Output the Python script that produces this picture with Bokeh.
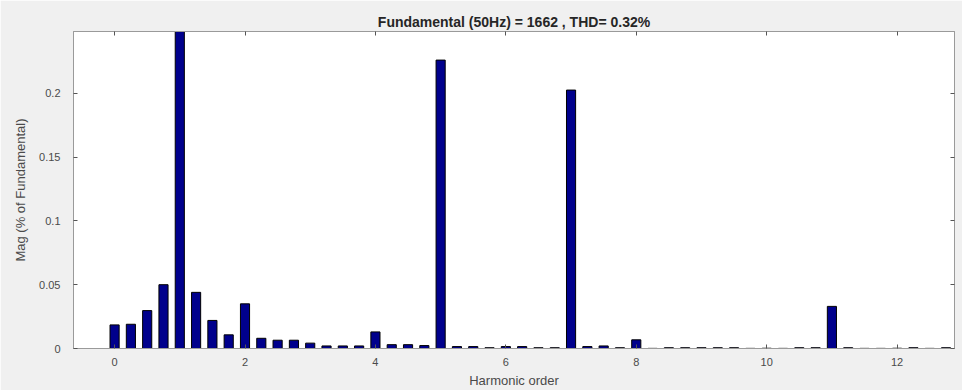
import numpy as np
from bokeh.plotting import figure
from bokeh.models import LinearAxis, FixedTicker, Range1d
from bokeh.embed import file_html
from bokeh.resources import INLINE

title_text = "Fundamental (50Hz) = 1662 , THD= 0.32%"
x_label = "Harmonic order"
y_label = "Mag (% of Fundamental)"

harmonic_order = np.arange(0, 13, 0.25)
magnitude = [
    0.0185, 0.019, 0.0297, 0.050, 100.0, 0.044, 0.022, 0.0107,
    0.035, 0.008, 0.0065, 0.0065, 0.0042, 0.002, 0.002, 0.002,
    0.013, 0.003, 0.003, 0.0023, 0.226, 0.0015, 0.0015, 0.0006,
    0.0015, 0.0015, 0.0006, 0.0006, 0.2025, 0.0015, 0.002, 0.0006,
    0.0068, 0.0001, 0.0006, 0.0006, 0.0006, 0.0006, 0.0006, 0.0001,
    0.0002, 0.0001, 0.0006, 0.0006, 0.033, 0.0006, 0.0001, 0.0001,
    0.0002, 0.0006, 0.0001, 0.0006,
]

x_ticks = [0, 2, 4, 6, 8, 10, 12]
x_tick_labels = ["0", "2", "4", "6", "8", "10", "12"]
y_ticks = [0, 0.05, 0.1, 0.15, 0.2]
y_tick_labels = ["0", "0.05", "0.1", "0.15", "0.2"]

FONT = "Liberation Sans"
LABEL_COLOR = "#4a4a4a"
AXIS_COLOR = "#9a9a9a"

p = figure(width=962, height=390, output_backend="svg", toolbar_location=None,
           x_range=Range1d(-0.63, 12.88), y_range=Range1d(0, 0.2484),
           min_border_left=73, min_border_right=8, min_border_top=31, min_border_bottom=41)

p.border_fill_color = "#f0f0f0"
p.background_fill_color = "white"
p.outline_line_color = AXIS_COLOR
p.xgrid.visible = False
p.ygrid.visible = False

p.title.text = title_text
p.title.align = "center"
p.title.text_font = FONT
p.title.text_font_size = "14px"
p.title.text_font_style = "bold"
p.title.text_color = "#262626"
p.title.offset = 0
p.title.standoff = 3

p.vbar(x=harmonic_order, top=magnitude, width=0.14, bottom=0,
       fill_color="#00008c", line_color="#000000", line_width=1)

def style_axis(ax, ticks, labels, show_labels=True):
    ax.ticker = FixedTicker(ticks=ticks)
    if show_labels:
        ax.major_label_overrides = {t: l for t, l in zip(ticks, labels)}
    else:
        ax.major_label_overrides = {t: "" for t in ticks}
    ax.major_tick_in = 4
    ax.major_tick_out = 0
    ax.minor_tick_in = 0
    ax.minor_tick_out = 0
    ax.axis_line_color = AXIS_COLOR
    ax.major_tick_line_color = "#555555"
    ax.major_label_text_font = FONT
    ax.major_label_text_font_size = "11px"
    ax.major_label_text_color = LABEL_COLOR
    ax.axis_label_text_font = FONT
    ax.axis_label_text_font_size = "13px"
    ax.axis_label_text_font_style = "normal"
    ax.axis_label_text_color = LABEL_COLOR

xa = p.xaxis[0]
style_axis(xa, x_ticks, x_tick_labels)
xa.axis_label = x_label
xa.major_label_standoff = 9
xa.axis_label_standoff = 4

ya = p.yaxis[0]
style_axis(ya, y_ticks, y_tick_labels)
ya.axis_label = y_label
ya.major_label_standoff = 13
ya.axis_label_standoff = 8

top_ax = LinearAxis()
style_axis(top_ax, x_ticks, x_tick_labels, show_labels=False)
top_ax.major_label_standoff = 0
p.add_layout(top_ax, "above")

right_ax = LinearAxis()
style_axis(right_ax, y_ticks, y_tick_labels, show_labels=False)
right_ax.major_label_standoff = 0
p.add_layout(right_ax, "right")

open("out.html", "w").write(file_html(p, INLINE))
